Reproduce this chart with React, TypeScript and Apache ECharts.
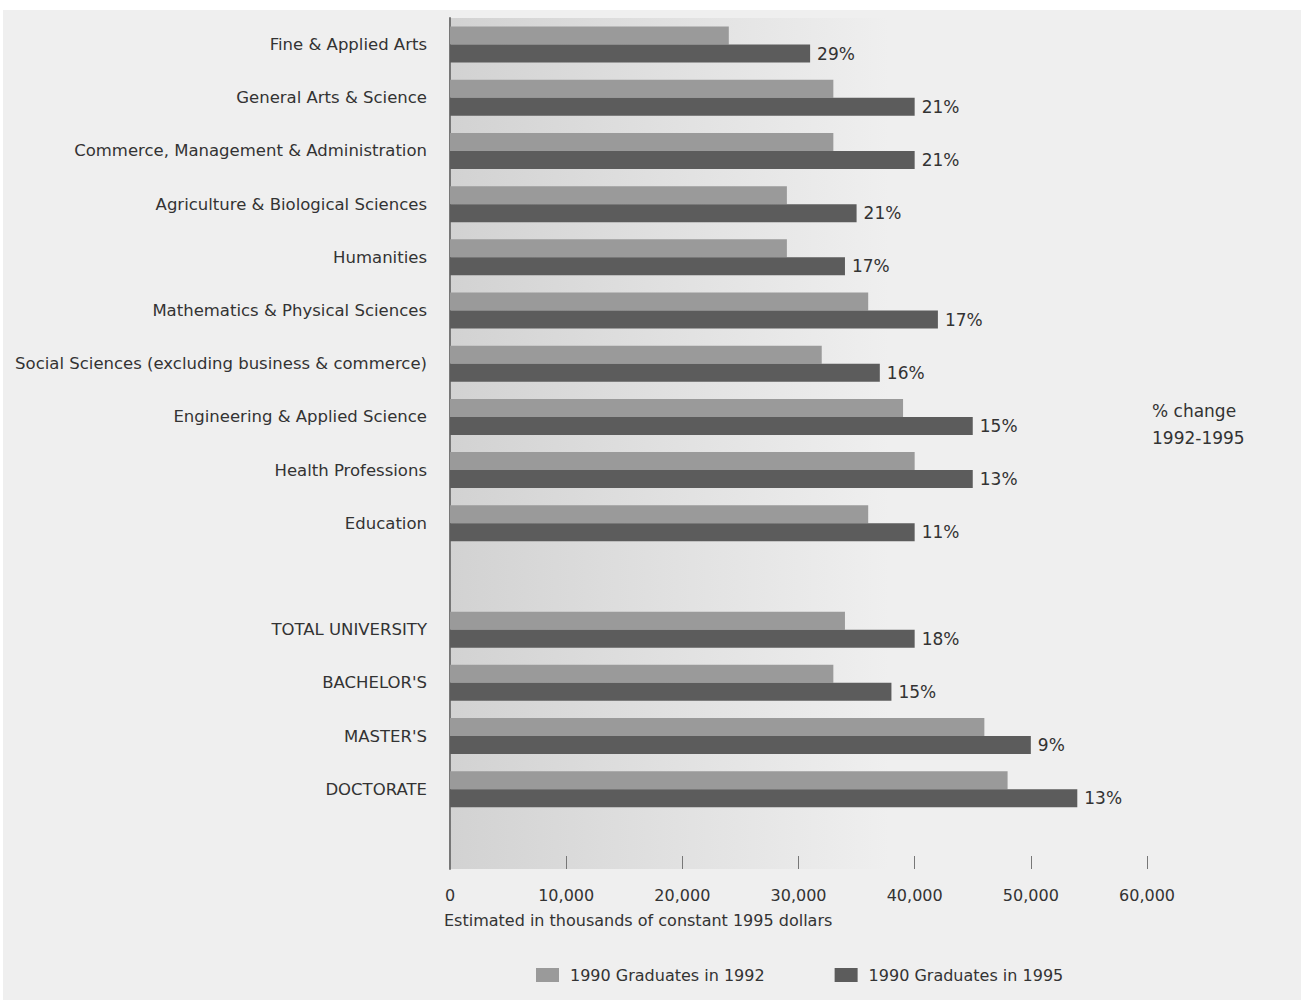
import React, { useEffect, useRef } from "react";
import * as echarts from "echarts";

const categories = [
  "Fine & Applied Arts",
  "General Arts & Science",
  "Commerce, Management & Administration",
  "Agriculture & Biological Sciences",
  "Humanities",
  "Mathematics & Physical Sciences",
  "Social Sciences (excluding business & commerce)",
  "Engineering & Applied Science",
  "Health Professions",
  "Education",
  " ",
  "TOTAL UNIVERSITY",
  "BACHELOR'S",
  "MASTER'S",
  "DOCTORATE",
  "  ",
];

const grads1992 = [24000, 33000, 33000, 29000, 29000, 36000, 32000, 39000, 40000, 36000, null, 34000, 33000, 46000, 48000, null];
const grads1995 = [31000, 40000, 40000, 35000, 34000, 42000, 37000, 45000, 45000, 40000, null, 40000, 38000, 50000, 54000, null];
const pctChange = ["29%", "21%", "21%", "21%", "17%", "17%", "16%", "15%", "13%", "11%", "", "18%", "15%", "9%", "13%", ""];

const seriesNames = ["1990 Graduates in 1992", "1990 Graduates in 1995"];
const xTicks = { min: 0, max: 60000, interval: 10000 };

const FONT = "'DejaVu Sans', 'Liberation Sans', sans-serif";
const TXT = "#333";

export default function App() {
  const ref = useRef<HTMLDivElement>(null);
  useEffect(() => {
    if (!ref.current) return;
    const chart = echarts.init(ref.current, null, { renderer: "svg" });
    chart.setOption({
      animation: false,
      backgroundColor: "#efefef",
      textStyle: { fontFamily: FONT },
      grid: {
        left: 450,
        right: 154,
        top: 18,
        bottom: 131,
        show: true,
        borderWidth: 0,
        backgroundColor: new echarts.graphic.LinearGradient(0, 0, 1, 0, [
          { offset: 0, color: "#d2d2d2" },
          { offset: 0.63, color: "#efefef" },
          { offset: 1, color: "#efefef" },
        ]),
      },
      legend: {
        left: 531,
        top: 962,
        itemWidth: 23,
        itemHeight: 14,
        itemGap: 70,
        icon: "rect",
        textStyle: { fontSize: 16, color: TXT, fontFamily: FONT, padding: [0, 0, 0, 6] },
        data: seriesNames,
      },
      xAxis: {
        type: "value",
        min: xTicks.min,
        max: xTicks.max,
        interval: xTicks.interval,
        axisLine: { show: false },
        axisTick: { show: true, inside: true, length: 13, lineStyle: { color: "#777" } },
        splitLine: { show: false },
        axisLabel: {
          margin: 18,
          fontSize: 16,
          color: TXT,
          fontFamily: FONT,
          formatter: (v: number) => v.toLocaleString("en-US"),
        },
      },
      yAxis: {
        type: "category",
        inverse: true,
        data: categories,
        axisLine: { show: true, lineStyle: { color: "#777", width: 2 } },
        axisTick: { show: false },
        axisLabel: { margin: 23, fontSize: 16.5, color: TXT, fontFamily: FONT, padding: [4, 0, 0, 0] },
      },
      series: [
        {
          name: seriesNames[0],
          type: "bar",
          data: grads1992,
          barWidth: 18,
          barGap: "0%",
          itemStyle: { color: "#9a9a9a" },
        },
        {
          name: seriesNames[1],
          type: "bar",
          data: grads1995,
          barWidth: 18,
          barGap: "0%",
          itemStyle: { color: "#5c5c5c" },
          label: {
            show: true,
            position: "right",
            distance: 7,
            fontSize: 17,
            color: TXT,
            fontFamily: FONT,
            formatter: (p: any) => pctChange[p.dataIndex],
          },
        },
      ],
      graphic: [
        { type: "rect", left: 0, top: 0, shape: { width: 1301, height: 10 }, style: { fill: "#fff" }, silent: true },
        { type: "rect", left: 0, top: 0, shape: { width: 3, height: 1000 }, style: { fill: "#fff" }, silent: true },
        {
          type: "text",
          left: 444,
          top: 912,
          style: { text: "Estimated in thousands of constant 1995 dollars", fontSize: 16, fill: TXT, fontFamily: FONT },
        },
        {
          type: "text",
          left: 1152,
          top: 397,
          style: { text: "% change\n1992-1995", fontSize: 17, lineHeight: 27, fill: TXT, fontFamily: FONT },
        },
      ],
    });
    return () => chart.dispose();
  }, []);
  return (
    <div
      ref={ref}
      style={{ position: "fixed", left: 0, top: 0, width: 1301, height: 1000 }}
    />
  );
}
